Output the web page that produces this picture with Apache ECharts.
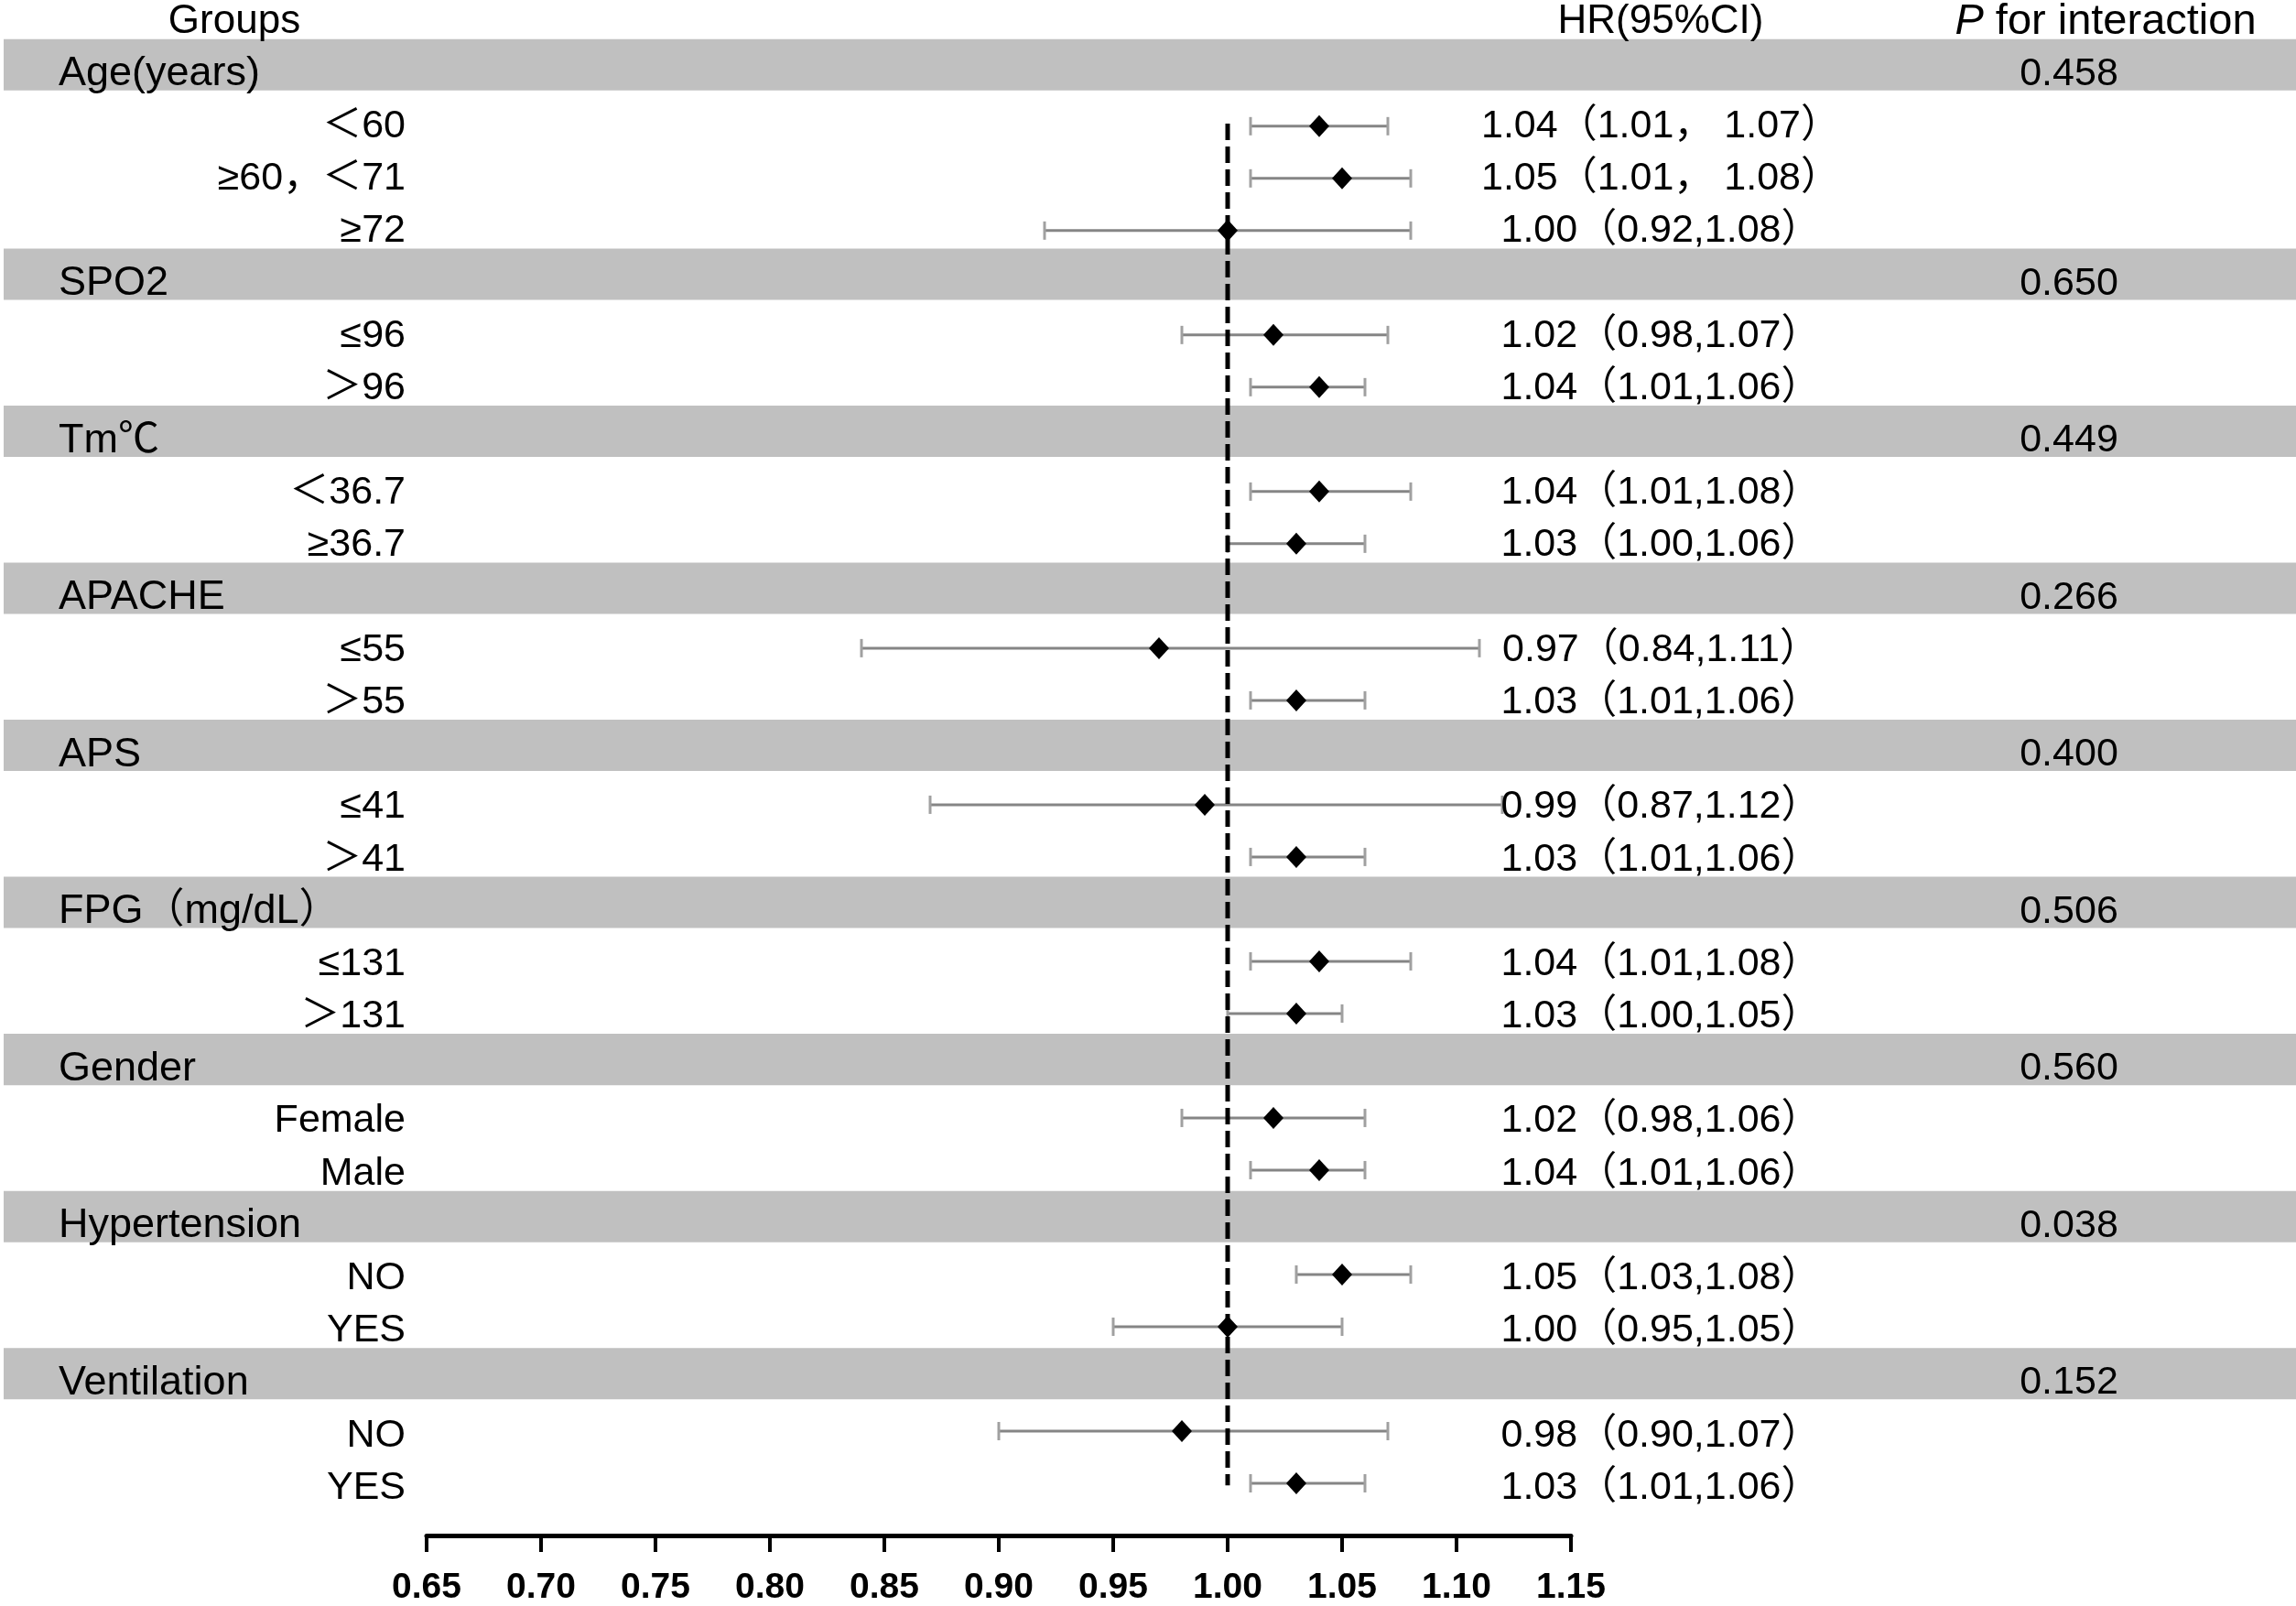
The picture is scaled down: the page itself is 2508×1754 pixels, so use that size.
<!DOCTYPE html>
<html>
<head>
<meta charset="utf-8">
<script src="https://cdn.jsdelivr.net/npm/echarts@6/dist/echarts.min.js"></script>
<style>
html,body{margin:0;padding:0;background:#fff;}
#chart{width:2508px;height:1754px;}
</style>
</head>
<body>
<div id="chart"></div>
<script>
// ---- data ----
const groups = ['Age(years)', 'SPO2', 'Tm℃', 'APACHE', 'APS', 'FPG（mg/dL）', 'Gender', 'Hypertension', 'Ventilation'];
const pInteraction = ['0.458', '0.650', '0.449', '0.266', '0.400', '0.506', '0.560', '0.038', '0.152'];
const subgroups = [
  ['＜60', '≥60，＜71', '≥72'],
  ['≤96', '＞96'],
  ['＜36.7', '≥36.7'],
  ['≤55', '＞55'],
  ['≤41', '＞41'],
  ['≤131', '＞131'],
  ['Female', 'Male'],
  ['NO', 'YES'],
  ['NO', 'YES']
];
const hr = [
  [1.04, 1.05, 1.00],
  [1.02, 1.04],
  [1.04, 1.03],
  [0.97, 1.03],
  [0.99, 1.03],
  [1.04, 1.03],
  [1.02, 1.04],
  [1.05, 1.00],
  [0.98, 1.03]
];
const ciLow = [
  [1.01, 1.01, 0.92],
  [0.98, 1.01],
  [1.01, 1.00],
  [0.84, 1.01],
  [0.87, 1.01],
  [1.01, 1.00],
  [0.98, 1.01],
  [1.03, 0.95],
  [0.90, 1.01]
];
const ciHigh = [
  [1.07, 1.08, 1.08],
  [1.07, 1.06],
  [1.08, 1.06],
  [1.11, 1.06],
  [1.12, 1.06],
  [1.08, 1.05],
  [1.06, 1.06],
  [1.08, 1.05],
  [1.07, 1.06]
];
const hrLabels = [
  ['1.04（1.01， 1.07）', '1.05（1.01， 1.08）', '1.00（0.92,1.08）'],
  ['1.02（0.98,1.07）', '1.04（1.01,1.06）'],
  ['1.04（1.01,1.08）', '1.03（1.00,1.06）'],
  ['0.97（0.84,1.11）', '1.03（1.01,1.06）'],
  ['0.99（0.87,1.12）', '1.03（1.01,1.06）'],
  ['1.04（1.01,1.08）', '1.03（1.00,1.05）'],
  ['1.02（0.98,1.06）', '1.04（1.01,1.06）'],
  ['1.05（1.03,1.08）', '1.00（0.95,1.05）'],
  ['0.98（0.90,1.07）', '1.03（1.01,1.06）']
];
const xTicks = {min: 0.65, max: 1.15, step: 0.05};
const refValue = 1.00;
const headers = ['Groups', 'HR(95%CI)', '{i|P} for interaction'];

// ---- build row tables ----
const bandRows = [];   // [row]
const groupText = [];  // [row, text, pText]
const subText = [];    // [row, label, hrLabel]
const bars = [];       // [row, hr, lo, hi]
let r = 0;
groups.forEach((g, gi) => {
  bandRows.push([r]);
  groupText.push([r, g, pInteraction[gi]]);
  r++;
  subgroups[gi].forEach((s, si) => {
    subText.push([r, s, hrLabels[gi][si]]);
    bars.push([r, hr[gi][si], ciLow[gi][si], ciHigh[gi][si]]);
    r++;
  });
});
const lastRow = r - 1;

const FONT = '"Liberation Sans", "Noto Sans CJK SC", Arial, sans-serif';
const FS_GROUP = 45;
const FS_SUB = 43;
const FS_HR = 43;
const FS_P = 43;
const FS_HEAD = 44;
const COL = {groupLeft: 64, subRight: 443, hrCenter: 1814, pCenter: 2260, hGroups: 256, hHR: 1814, hP: 2300};

const chart = echarts.init(document.getElementById('chart'), null, {renderer: 'canvas', devicePixelRatio: 1});

function txt(x, y, text, align, fs, extra) {
  return {
    type: 'text',
    style: Object.assign({
      text: text, x: x, y: y, fill: '#000',
      font: fs + 'px ' + FONT,
      align: align, verticalAlign: 'middle'
    }, extra || {})
  };
}

const option = {
  animation: false,
  backgroundColor: '#fff',
  grid: [
    {left: 466, width: 1250, top: 1, height: 1681},
    {left: 0, width: 2508, top: 1, height: 1681}
  ],
  xAxis: [
    {
      type: 'value', gridIndex: 0, min: xTicks.min, max: xTicks.max, interval: xTicks.step,
      position: 'bottom', z: 10,
      axisLine: {show: true, onZero: false, lineStyle: {color: '#000', width: 5}},
      axisTick: {show: true, length: 18, lineStyle: {color: '#000', width: 4}},
      axisLabel: {
        margin: 38, color: '#000', fontSize: 39, fontWeight: 'bold', fontFamily: FONT,
        formatter: v => v.toFixed(2), showMinLabel: true, showMaxLabel: true
      },
      splitLine: {show: false}
    },
    {type: 'value', gridIndex: 1, min: 0, max: 2508, show: false}
  ],
  yAxis: [
    {type: 'value', gridIndex: 0, min: -1.4, max: 28, inverse: true, show: false},
    {type: 'value', gridIndex: 1, min: -1.4, max: 28, inverse: true, show: false}
  ],
  series: [
    // gray bands
    {
      type: 'custom', xAxisIndex: 1, yAxisIndex: 1, z: 1,
      data: bandRows,
      renderItem: (params, api) => {
        const row = api.value(0);
        const p1 = api.coord([4, row - 0.67]);
        const p2 = api.coord([2508, row + 0.31]);
        return {type: 'rect', shape: {x: p1[0], y: p1[1], width: p2[0] - p1[0], height: p2[1] - p1[1]},
          style: {fill: '#c0c0c0'}};
      }
    },
    // headers
    {
      type: 'custom', xAxisIndex: 1, yAxisIndex: 1, z: 5,
      data: [[-1]],
      renderItem: (params, api) => {
        const y = api.coord([0, api.value(0)])[1];
        return {type: 'group', children: [
          txt(api.coord([COL.hGroups, 0])[0], y, headers[0], 'center', FS_HEAD),
          txt(api.coord([COL.hHR, 0])[0], y, headers[1], 'center', FS_HEAD),
          txt(api.coord([COL.hP, 0])[0], y, headers[2], 'center', 47, {
            rich: {i: {fontStyle: 'italic', fontSize: 47, fontFamily: FONT}}
          })
        ]};
      }
    },
    // group titles + P values
    {
      type: 'custom', xAxisIndex: 1, yAxisIndex: 1, z: 5,
      data: groupText,
      renderItem: (params, api) => {
        const d = groupText[params.dataIndex];
        const y = api.coord([0, d[0]])[1];
        return {type: 'group', children: [
          txt(api.coord([COL.groupLeft, 0])[0], y, d[1], 'left', FS_GROUP),
          txt(api.coord([COL.pCenter, 0])[0], y, d[2], 'center', FS_P)
        ]};
      }
    },
    // subgroup labels + HR text
    {
      type: 'custom', xAxisIndex: 1, yAxisIndex: 1, z: 5,
      data: subText,
      renderItem: (params, api) => {
        const d = subText[params.dataIndex];
        const y = api.coord([0, d[0]])[1];
        return {type: 'group', children: [
          txt(api.coord([COL.subRight, 0])[0], y, d[1], 'right', FS_SUB),
          txt(api.coord([COL.hrCenter, 0])[0], y, d[2], 'center', FS_HR)
        ]};
      }
    },
    // error bars
    {
      type: 'custom', xAxisIndex: 0, yAxisIndex: 0, z: 3,
      data: bars,
      renderItem: (params, api) => {
        const row = api.value(0);
        const lo = api.coord([api.value(2), row]);
        const hi = api.coord([api.value(3), row]);
        const cap = 10;
        return {type: 'group', children: [
          {type: 'line', shape: {x1: lo[0], y1: lo[1], x2: hi[0], y2: hi[1]}, style: {stroke: '#858585', lineWidth: 3}},
          {type: 'line', shape: {x1: lo[0], y1: lo[1] - cap, x2: lo[0], y2: lo[1] + cap}, style: {stroke: '#a0a0a0', lineWidth: 3}},
          {type: 'line', shape: {x1: hi[0], y1: hi[1] - cap, x2: hi[0], y2: hi[1] + cap}, style: {stroke: '#a0a0a0', lineWidth: 3}}
        ]};
      }
    },
    // reference line
    {
      type: 'line', xAxisIndex: 0, yAxisIndex: 0, z: 4,
      data: [[refValue, 0.95], [refValue, lastRow + 0.04]],
      symbol: 'none',
      lineStyle: {color: '#000', width: 5, type: [18, 7]}
    },
    // diamonds
    {
      type: 'custom', xAxisIndex: 0, yAxisIndex: 0, z: 6,
      data: bars,
      renderItem: (params, api) => {
        const c = api.coord([api.value(1), api.value(0)]);
        const w = 11, h = 12;
        return {type: 'polygon', shape: {points: [[c[0], c[1] - h], [c[0] + w, c[1]], [c[0], c[1] + h], [c[0] - w, c[1]]]},
          style: {fill: '#000'}};
      }
    }
  ]
};
chart.setOption(option);
</script>
</body>
</html>
